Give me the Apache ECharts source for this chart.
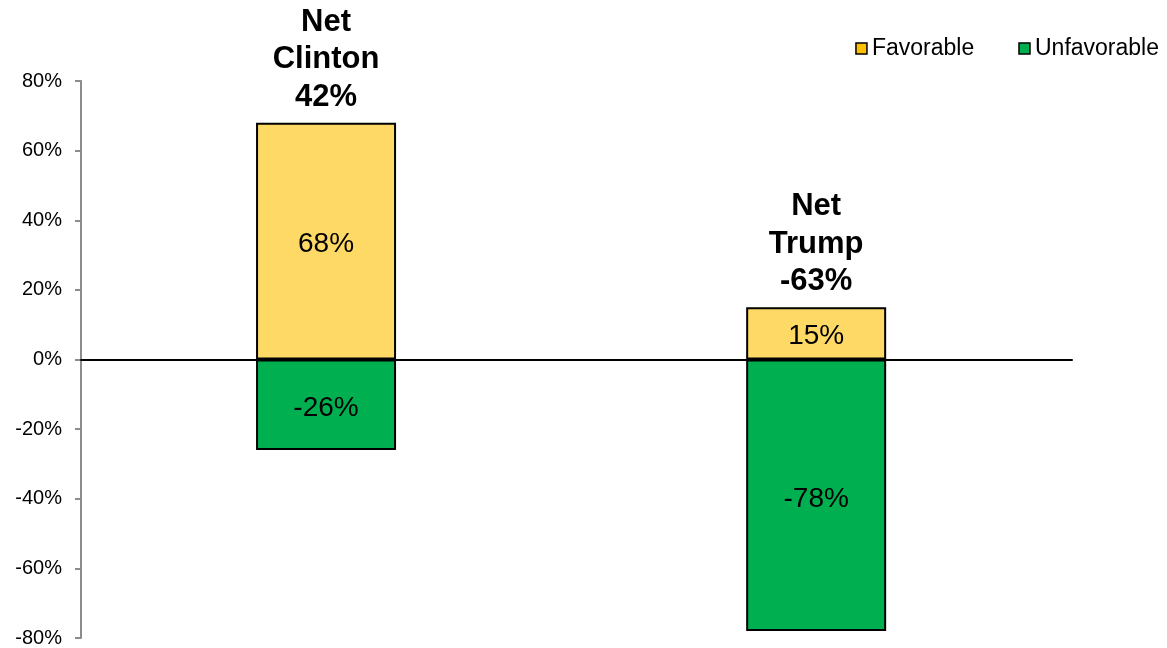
<!DOCTYPE html>
<html>
<head>
<meta charset="utf-8">
<script src="https://cdn.jsdelivr.net/npm/echarts@6/dist/echarts.min.js"></script>
<style>html,body{margin:0;padding:0;background:#fff;}#c{width:1167px;height:648px;}</style>
</head>
<body>
<div id="c"></div>
<script>
const categories = ['Clinton', 'Trump'];
const favorable = [68, 15];
const unfavorable = [-26, -78];
const yTicks = { min: -80, max: 80, interval: 20 };

const net = categories.map((c, i) => favorable[i] + unfavorable[i]);
const FONT = '"Liberation Sans", Arial, sans-serif';
const pts = arr => arr.map((v, i) => [i, v]);

const chart = echarts.init(document.getElementById('c'));
chart.setOption({
  animation: false,
  textStyle: { fontFamily: FONT },
  grid: { left: 81, right: 95, top: 81, bottom: 10, containLabel: false },
  legend: {
    right: 3, top: 32,
    itemWidth: 11, itemHeight: 11, itemGap: 44,
    icon: 'rect',
    textStyle: { fontSize: 23, color: '#000', fontFamily: FONT },
    data: [
      { name: 'Favorable', itemStyle: { color: '#FFC000', borderColor: '#000', borderWidth: 1.5 } },
      { name: 'Unfavorable', itemStyle: { color: '#00B050', borderColor: '#000', borderWidth: 1.5 } }
    ]
  },
  xAxis: {
    type: 'value',
    min: -0.5, max: 1.522,
    splitLine: { show: false },
    axisLine: { show: true, onZero: true, lineStyle: { color: '#000', width: 2 } },
    axisTick: { show: false },
    axisLabel: { show: false },
    z: 5
  },
  yAxis: {
    type: 'value',
    min: yTicks.min, max: yTicks.max, interval: yTicks.interval,
    splitLine: { show: false },
    axisLine: { show: true, onZero: false, lineStyle: { color: '#8c8c8c', width: 2 } },
    axisTick: { show: true, length: 6, lineStyle: { color: '#8c8c8c', width: 2 } },
    axisLabel: { formatter: '{value}%', fontSize: 20, color: '#000', margin: 19, fontFamily: FONT }
  },
  series: [
    {
      name: 'Favorable', type: 'bar', stack: 's', barWidth: 140,
      data: pts(favorable),
      itemStyle: { color: '#FFD966', borderColor: '#000', borderWidth: 2 },
      label: { show: true, position: 'inside', offset: [0, 3], formatter: p => p.value[1] + '%', fontSize: 28, color: '#000', fontFamily: FONT }
    },
    {
      name: 'Unfavorable', type: 'bar', stack: 's', barWidth: 140,
      data: pts(unfavorable),
      itemStyle: { color: '#00B050', borderColor: '#000', borderWidth: 2 },
      label: { show: true, position: 'inside', offset: [0, 4], formatter: p => p.value[1] + '%', fontSize: 28, color: '#000', fontFamily: FONT }
    },
    {
      name: 'net', type: 'scatter', symbolSize: 0, silent: true,
      itemStyle: { opacity: 1 },
      data: pts(favorable),
      label: {
        show: true, position: 'top', distance: 7,
        formatter: p => '{b|Net\n' + categories[p.dataIndex] + '\n' + net[p.dataIndex] + '%}',
        rich: { b: { fontSize: 31, fontWeight: 'bold', lineHeight: 37.5, color: '#000', fontFamily: FONT, align: 'center' } },
        color: '#000', align: 'center'
      }
    }
  ]
});
</script>
</body>
</html>
